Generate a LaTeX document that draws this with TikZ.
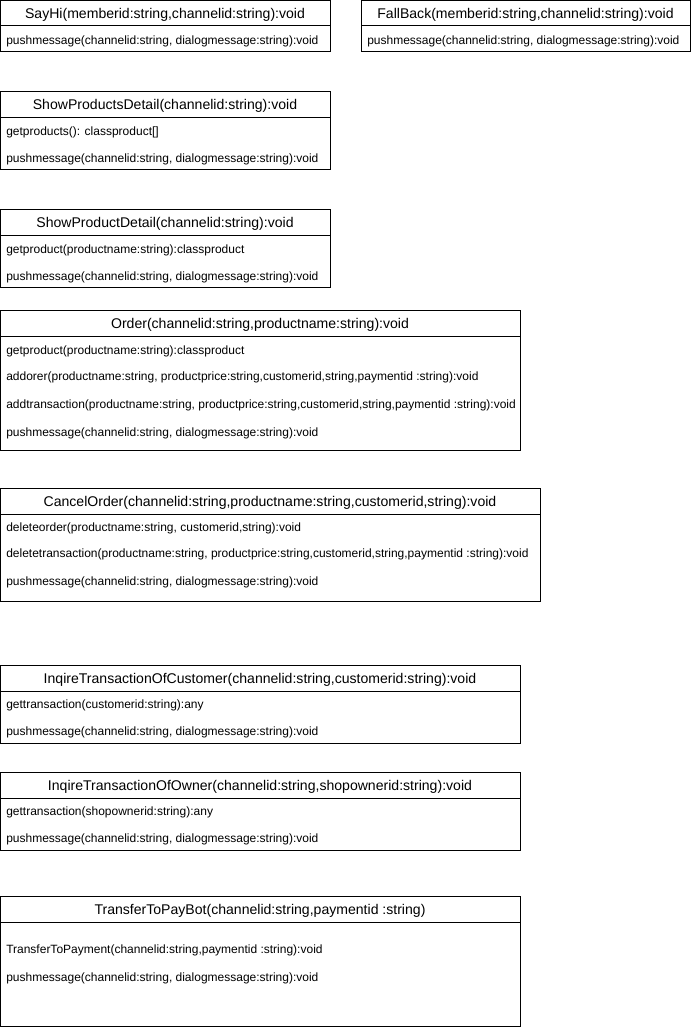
\documentclass[tikz,border=0pt]{standalone}
\usepackage{fontspec}
\setmainfont{Liberation Sans}
\usepackage{tikz}

\tikzset{
  classbox/.style={draw=black,line width=0.75pt},
  headtxt/.style={inner sep=0pt,font=\fontsize{10.55pt}{12pt}\selectfont},
  itemtxt/.style={anchor=west,inner sep=0pt,font=\fontsize{9pt}{11pt}\selectfont}
}

\begin{document}
\begin{tikzpicture}[x=0.75pt,y=-0.75pt]
          \useasboundingbox (0,0) rectangle (691,1030);
          % SayHi
          \draw[classbox] (0.5,0.5) rectangle (330,52);
          \draw[classbox] (0.5,26) -- (330,26);
          \node[headtxt] (sayhi) at (165,15) {SayHi(memberid:string,channelid:string):void};
          \node[itemtxt] (sayhi1) at (6,41) {pushmessage(channelid:string, dialogmessage:string):void};
          % FallBack
          \draw[classbox] (361,0.5) rectangle (690.5,52);
          \draw[classbox] (361,26) -- (690.5,26);
          \node[headtxt] (fallback) at (525.5,15) {FallBack(memberid:string,channelid:string):void};
          \node[itemtxt] (fallback1) at (367,41) {pushmessage(channelid:string, dialogmessage:string):void};
          % ShowProductsDetail
          \draw[classbox] (0.5,92) rectangle (330,170);
          \draw[classbox] (0.5,118) -- (330,118);
          \node[headtxt] (products) at (165,106) {ShowProductsDetail(channelid:string):void};
          \node[itemtxt] (products1) at (6,132) {getproducts(): classproduct[]};
          \node[itemtxt] (products2) at (6,159) {pushmessage(channelid:string, dialogmessage:string):void};
          % ShowProductDetail
          \draw[classbox] (0.5,210) rectangle (330,288);
          \draw[classbox] (0.5,236) -- (330,236);
          \node[headtxt] (product) at (165,224) {ShowProductDetail(channelid:string):void};
          \node[itemtxt] (product1) at (6,250) {getproduct(productname:string):classproduct};
          \node[itemtxt] (product2) at (6,277) {pushmessage(channelid:string, dialogmessage:string):void};
          % Order
          \draw[classbox] (0.5,310) rectangle (520,450);
          \draw[classbox] (0.5,336) -- (520,336);
          \node[headtxt] (order) at (260,325) {Order(channelid:string,productname:string):void};
          \node[itemtxt] (order1) at (6,351) {getproduct(productname:string):classproduct};
          \node[itemtxt] (order2) at (6,377) {addorer(productname:string, productprice:string,customerid,string,paymentid :string):void};
          \node[itemtxt] (order3) at (6,405) {addtransaction(productname:string, productprice:string,customerid,string,paymentid :string):void};
          \node[itemtxt] (order4) at (6,433) {pushmessage(channelid:string, dialogmessage:string):void};
          % CancelOrder
          \draw[classbox] (0.5,488) rectangle (540,601);
          \draw[classbox] (0.5,514) -- (540,514);
          \node[headtxt] (cancel) at (270,503) {CancelOrder(channelid:string,productname:string,customerid,string):void};
          \node[itemtxt] (cancel1) at (6,528) {deleteorder(productname:string, customerid,string):void};
          \node[itemtxt] (cancel2) at (6,554) {deletetransaction(productname:string, productprice:string,customerid,string,paymentid :string):void};
          \node[itemtxt] (cancel3) at (6,582) {pushmessage(channelid:string, dialogmessage:string):void};
          % InqireTransactionOfCustomer
          \draw[classbox] (0.5,665) rectangle (520,743);
          \draw[classbox] (0.5,691) -- (520,691);
          \node[headtxt] (customer) at (260,680) {InqireTransactionOfCustomer(channelid:string,customerid:string):void};
          \node[itemtxt] (customer1) at (6,705) {gettransaction(customerid:string):any};
          \node[itemtxt] (customer2) at (6,732) {pushmessage(channelid:string, dialogmessage:string):void};
          % InqireTransactionOfOwner
          \draw[classbox] (0.5,772) rectangle (520,850);
          \draw[classbox] (0.5,798) -- (520,798);
          \node[headtxt] (owner) at (260,787) {InqireTransactionOfOwner(channelid:string,shopownerid:string):void};
          \node[itemtxt] (owner1) at (6,812) {gettransaction(shopownerid:string):any};
          \node[itemtxt] (owner2) at (6,839) {pushmessage(channelid:string, dialogmessage:string):void};
          % TransferToPayBot
          \draw[classbox] (0.5,896) rectangle (520,1026);
          \draw[classbox] (0.5,922) -- (520,922);
          \node[headtxt] (paybot) at (260,911) {TransferToPayBot(channelid:string,paymentid :string)};
          \node[itemtxt] (paybot1) at (6,950) {TransferToPayment(channelid:string,paymentid :string):void};
          \node[itemtxt] (paybot2) at (6,978) {pushmessage(channelid:string, dialogmessage:string):void};
\end{tikzpicture}
\end{document}
